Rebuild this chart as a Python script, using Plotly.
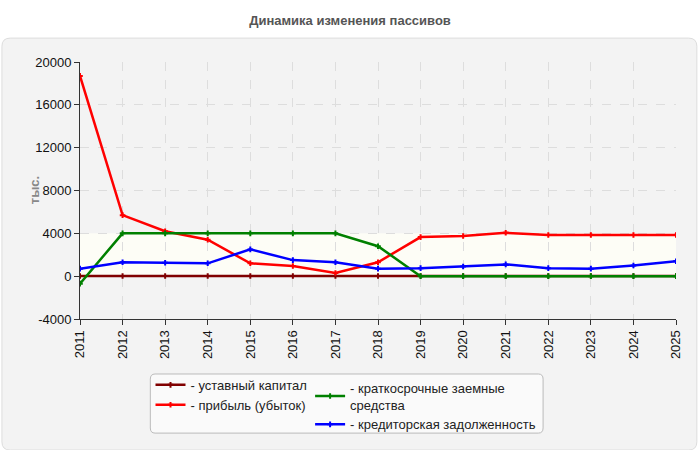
import plotly.graph_objects as go

years = [str(y) for y in range(2011, 2026)]

capital = [10] * 15
profit = [18700, 5700, 4200, 3400, 1200, 950, 300, 1300, 3650, 3750, 4050, 3850, 3850, 3850, 3850]
short_loans = [-700, 4000, 4000, 4000, 4000, 4000, 4000, 2800, 0, 0, 0, 0, 0, 0, 0]
payables = [700, 1300, 1250, 1200, 2500, 1500, 1300, 700, 750, 900, 1100, 750, 700, 1000, 1400]

y_ticks = [-4000, 0, 4000, 8000, 12000, 16000, 20000]
y_labels = ["-4000", "0", "4000", "8000", "12000", "16000", "20000"]

series = [
    ("- уставный капитал", capital, "#800000", "legend"),
    ("- прибыль (убыток)", profit, "#ff0000", "legend"),
    ("- краткосрочные заемные<br>средства", short_loans, "#008000", "legend2"),
    ("- кредиторская задолженность", payables, "#0000ff", "legend2"),
]

fig = go.Figure()
for name, vals, color, leg in series:
    fig.add_trace(go.Scatter(
        x=years, y=vals, name=name, mode="lines+markers",
        line=dict(color=color, width=2.5),
        marker=dict(symbol="cross-thin", size=4, line=dict(color=color, width=2)),
        legend=leg,
    ))


def rounded(x0, y0, x1, y1, rx, ry):
    # rounded rectangle path in paper coords
    return (f"M {x0+rx},{y0} L {x1-rx},{y0} Q {x1},{y0} {x1},{y0+ry} "
            f"L {x1},{y1-ry} Q {x1},{y1} {x1-rx},{y1} L {x0+rx},{y1} "
            f"Q {x0},{y1} {x0},{y1-ry} L {x0},{y0+ry} Q {x0},{y0} {x0+rx},{y0} Z")


# grey panel behind the chart
fig.add_shape(type="path", xref="paper", yref="paper", layer="below",
              path=rounded(-0.131, -0.51, 1.035, 1.093, 0.014, 0.032),
              fillcolor="#f3f3f3", line=dict(color="#dddddd", width=1))
# legend box
fig.add_shape(type="path", xref="paper", yref="paper",
              path=rounded(0.118, -0.444, 0.777, -0.214, 0.008, 0.02),
              fillcolor="#fafafa", line=dict(color="#bbbbbb", width=1))
# lighter band 0..4000
fig.add_shape(type="rect", xref="paper", yref="y", layer="below",
              x0=0, x1=1, y0=0, y1=4000, fillcolor="#fdfdf6", line=dict(width=0))

# y axis title as annotation (axis title misplaces with fixed margins)
fig.add_annotation(text="<b>тыс.</b>", xref="paper", yref="paper", x=-0.092, y=0.5,
                   textangle=-90, showarrow=False, font=dict(size=13, color="#888888"))

legend_style = dict(bgcolor="rgba(0,0,0,0)", borderwidth=0,
                    font=dict(size=13, color="#222222"),
                    itemwidth=30, tracegroupgap=0, yanchor="top", xanchor="left",
                    xref="container", yref="container")

fig.update_layout(
    width=700, height=450,
    margin=dict(l=80, r=24, t=62, b=131, autoexpand=False),
    paper_bgcolor="white",
    plot_bgcolor="#fafaf3",
    font=dict(family="Liberation Sans, Arial, sans-serif", size=13, color="#222222"),
    title=dict(text="<b>Динамика изменения пассивов</b>", x=0.5, xanchor="center",
               y=0.955, yanchor="middle", font=dict(size=13, color="#555555")),
    xaxis=dict(type="category", tickangle=-90, showline=True, linecolor="#333333",
               ticks="outside", ticklen=5, tickcolor="#333333",
               showgrid=True, gridcolor="#dddddd", griddash="dash",
               range=[0, 14], tickfont=dict(size=13, color="#111111")),
    yaxis=dict(range=[-4000, 20000], tickvals=y_ticks, ticktext=y_labels,
               showline=True, linecolor="#333333", ticks="outside", ticklen=5,
               tickcolor="#333333", showgrid=True, gridcolor="#dddddd", griddash="dash",
               zeroline=False, tickfont=dict(size=13, color="#111111")),
    legend=dict(x=0.215, y=0.178, **legend_style),
    legend2=dict(x=0.443, y=0.172, **legend_style),
)

fig.write_html("out.html", config={"displayModeBar": False},
               post_script="document.body.style.margin='0';")
